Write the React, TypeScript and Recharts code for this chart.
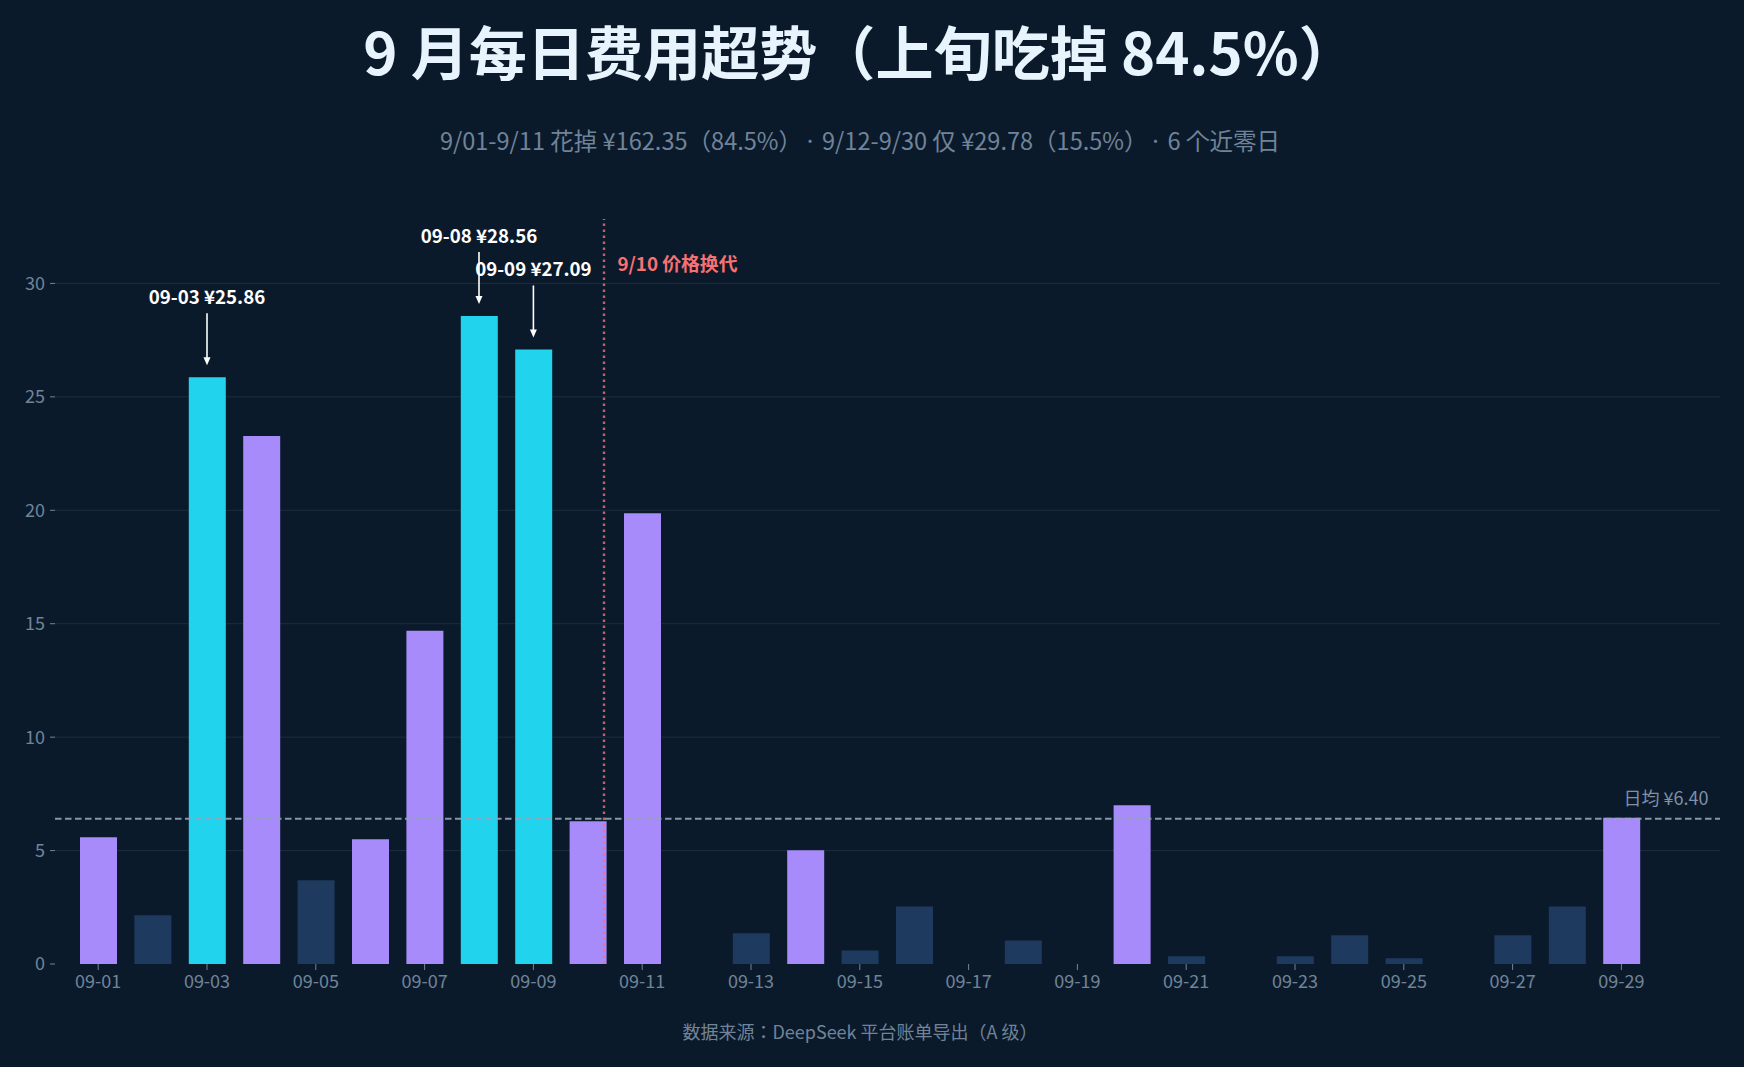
import { Bar, BarChart, CartesianGrid, Cell, ReferenceDot, ReferenceLine, XAxis, YAxis } from "recharts";

const FONT = '"Noto Sans CJK JP", "Noto Sans", sans-serif';
const MUTED = "#708499";

const DAYS = [
  "09-01", "09-02", "09-03", "09-04", "09-05", "09-06", "09-07", "09-08", "09-09", "09-10",
  "09-11", "09-12", "09-13", "09-14", "09-15", "09-16", "09-17", "09-18", "09-19", "09-20",
  "09-21", "09-22", "09-23", "09-24", "09-25", "09-26", "09-27", "09-28", "09-29", "09-30",
];
const COSTS = [
  5.59, 2.15, 25.86, 23.27, 3.69, 5.5, 14.69, 28.56, 27.09, 6.29,
  19.87, 0, 1.35, 5.01, 0.6, 2.54, 0, 1.04, 0, 7.0,
  0.34, 0, 0.34, 1.27, 0.25, 0, 1.27, 2.54, 6.45, 0,
];
const Y_TICKS = [0, 5, 10, 15, 20, 25, 30];
const GRID_VALUES = [5, 10, 15, 20, 25, 30];
const PEAK_DAYS = ["09-03", "09-08", "09-09"];
const DAILY_MEAN = 6.4;
const SWITCH_POSITION = 9.3;

const rows = DAYS.map((day, i) => ({ day, cost: COSTS[i], pos: i }));

function barColor(day: string, cost: number) {
  if (PEAK_DAYS.includes(day)) return "#22d3ee";
  return cost >= 5 ? "#a78bfa" : "#1e3a5f";
}

function PeakNote({ cx, cy, day, cost }: any) {
  const tip = cy - 12;
  return (
    <g>
      <text x={cx} y={cy - 82} textAnchor="middle" dominantBaseline="central" fill="#ffffff" fontSize={18.7} fontWeight={700} fontFamily={FONT}>
        {`${day} ¥${cost.toFixed(2)}`}
      </text>
      <line x1={cx} x2={cx} y1={cy - 64} y2={tip - 5} stroke="#ffffff" strokeWidth={1.6} />
      <path d={`M${cx} ${tip}L${cx - 3.5} ${tip - 8}L${cx + 3.5} ${tip - 8}Z`} fill="#ffffff" />
    </g>
  );
}

function SwitchNote({ cx, cy }: any) {
  return (
    <text x={cx + 13.5} y={cy} dominantBaseline="central" fill="#f87171" fontSize={18.8} fontWeight={700} fontFamily={FONT}>
      9/10 价格换代
    </text>
  );
}

function MeanNote({ cx, cy }: any) {
  return (
    <text x={cx + 33} y={cy - 22} textAnchor="end" dominantBaseline="central" fill="#7c90a6" fontSize={18} fontFamily={FONT}>
      日均 ¥6.40
    </text>
  );
}

function Heading({ top, size, weight, color, children }: any) {
  return (
    <div
      style={{
        position: "absolute",
        left: 0,
        width: 1720,
        top,
        textAlign: "center",
        fontSize: size,
        fontWeight: weight,
        color,
        lineHeight: 1,
        whiteSpace: "pre",
        fontFamily: FONT,
      }}
    >
      {children}
    </div>
  );
}

export default function App() {
  return (
    <div style={{ position: "fixed", left: 0, top: 0, width: 1744, height: 1067, background: "#0b1a2b", overflow: "hidden" }}>
      <Heading top={21} size={58.1} weight={700} color="#e8f4fd">
        9 月每日费用超势（上旬吃掉 84.5%）
      </Heading>
      <Heading top={129} size={23.55} weight={400} color={MUTED}>
        {"9/01-9/11 花掉 ¥162.35（84.5%）\u200a· 9/12-9/30 仅 ¥29.78（15.5%）\u200a· 6 个近零日"}
      </Heading>
      <Heading top={1022} size={18} weight={400} color={MUTED}>
        数据来源：DeepSeek 平台账单导出（A 级）
      </Heading>
      <BarChart
        width={1744}
        height={1067}
        data={rows}
        margin={{ top: 219, right: 24, bottom: 0, left: 0 }}
        style={{ position: "absolute", left: 0, top: 0 }}
      >
        <CartesianGrid vertical={false} horizontalValues={GRID_VALUES} stroke="#1a2d42" strokeWidth={1} />
        <XAxis
          dataKey="day"
          interval={1}
          height={103}
          padding={{ left: 16, right: 17 }}
          axisLine={false}
          tickSize={6}
          tickMargin={5}
          tickLine={{ stroke: MUTED }}
          tick={{ fill: MUTED, fontSize: 18, fontFamily: FONT }}
        />
        <XAxis
          xAxisId="pos"
          dataKey="pos"
          type="number"
          domain={[0, 29]}
          padding={{ left: 43.2, right: 44.5 }}
          hide
        />
        <YAxis
          width={55}
          domain={[0, 32.84]}
          ticks={Y_TICKS}
          axisLine={false}
          tickSize={5}
          tickMargin={5}
          tickLine={{ stroke: MUTED }}
          tick={{ fill: MUTED, fontSize: 18, fontFamily: FONT }}
        />
        <Bar dataKey="cost" barSize={37} isAnimationActive={false}>
          {rows.map((row) => (
            <Cell key={row.day} fill={barColor(row.day, row.cost)} />
          ))}
        </Bar>
        <ReferenceLine y={DAILY_MEAN} stroke="#94a3b8" strokeOpacity={0.9} strokeWidth={2} strokeDasharray="6.5 3.5" />
        <ReferenceLine xAxisId="pos" x={SWITCH_POSITION} stroke="#f87171" strokeOpacity={0.8} strokeWidth={2.4} strokeDasharray="2.5 3.5" />
        <ReferenceDot xAxisId="pos" x={SWITCH_POSITION} y={30.93} shape={(p: any) => <SwitchNote {...p} />} />
        <ReferenceDot xAxisId="pos" x={29} y={DAILY_MEAN} shape={(p: any) => <MeanNote {...p} />} />
        {PEAK_DAYS.map((day) => (
          <ReferenceDot
            key={day}
            x={day}
            y={COSTS[DAYS.indexOf(day)]}
            shape={(p: any) => <PeakNote {...p} day={day} cost={COSTS[DAYS.indexOf(day)]} />}
          />
        ))}
      </BarChart>
    </div>
  );
}
